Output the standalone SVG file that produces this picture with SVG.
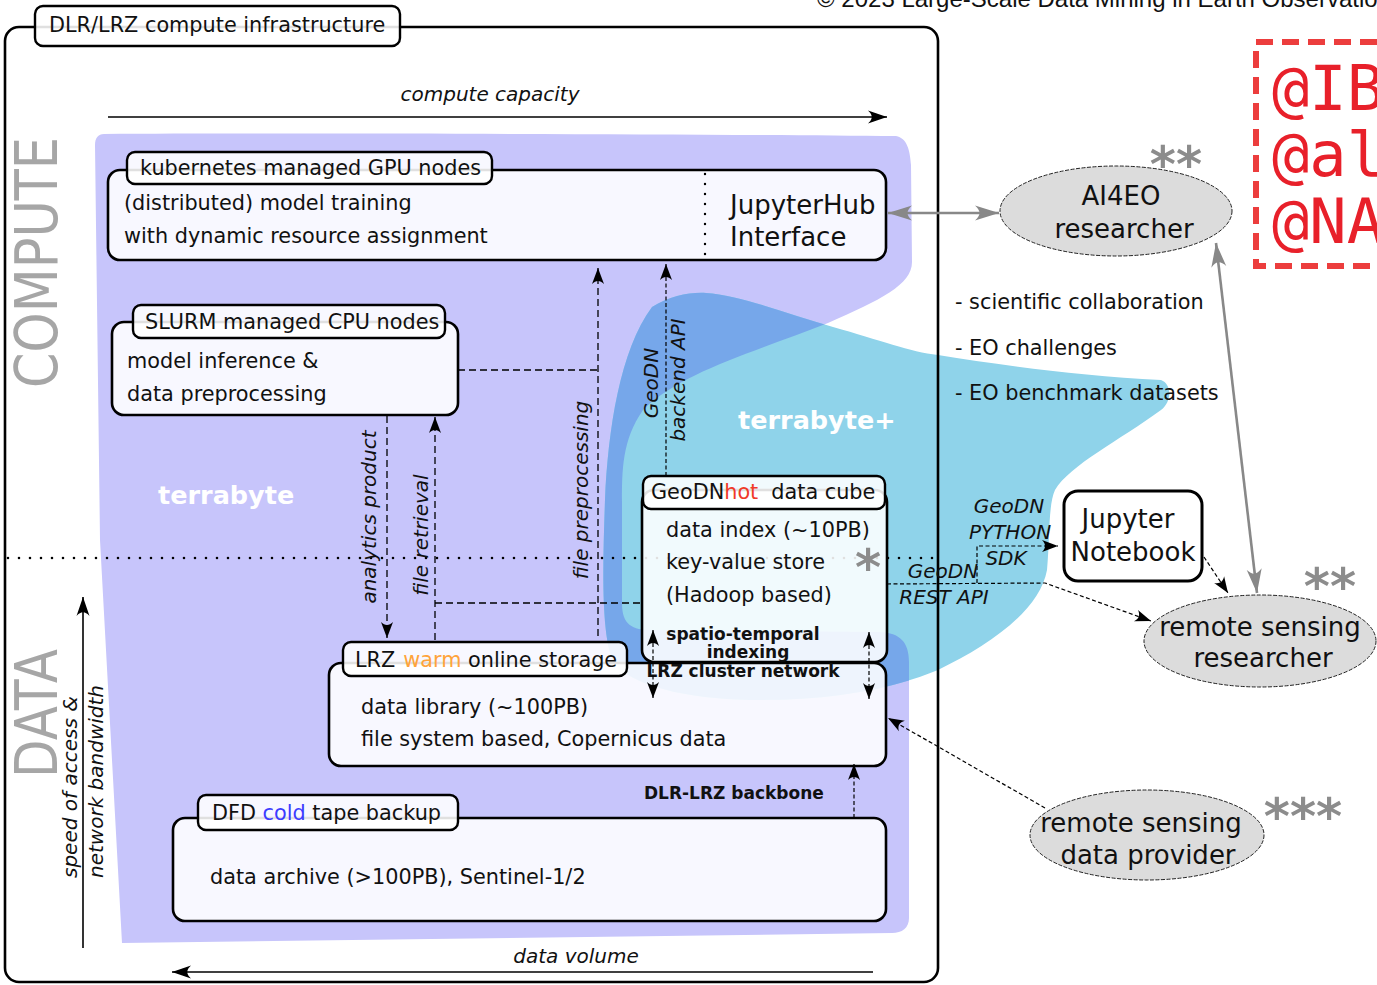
<svg xmlns="http://www.w3.org/2000/svg" width="1377" height="985" viewBox="0 0 1377 985">
<defs>
<style>
.t{font-family:"DejaVu Sans",Verdana,sans-serif;font-size:20.8px;fill:#111}
.it{font-family:"DejaVu Sans",Verdana,sans-serif;font-style:italic;font-size:20px;fill:#111}
.bd{font-family:"DejaVu Sans",Verdana,sans-serif;font-weight:bold;font-size:17px;fill:#111}
.big{font-family:"DejaVu Sans",Verdana,sans-serif;font-size:26px;fill:#111}
.star{font-family:"DejaVu Sans",Verdana,sans-serif;font-weight:bold;font-size:50px;fill:#8c8c8c}
.box{fill:#ffffff;fill-opacity:0.88;stroke:#000;stroke-width:2.6}
.tab{fill:#ffffff;fill-opacity:0.88;stroke:#000;stroke-width:2.4}
.ell{fill:#dcdcdc;stroke:#222;stroke-width:1;stroke-dasharray:4 1.5}
.dash{fill:none;stroke:#000;stroke-width:1.3;stroke-dasharray:7 4}
.fdash{fill:none;stroke:#000;stroke-width:1.2;stroke-dasharray:4 2.5}
.gray{fill:none;stroke:#888;stroke-width:2.6}
.sol{fill:none;stroke:#000;stroke-width:1.6}
</style>
<marker id="arr" viewBox="-21 -8 22 16" refX="0" refY="0" markerWidth="22" markerHeight="16" markerUnits="userSpaceOnUse" orient="auto-start-reverse"><path d="M0,0 L-19,-6.5 C-14,-2 -14,2 -19,6.5 Z" fill="#000"/></marker>
<marker id="arrs" viewBox="-18 -8 19 16" refX="0" refY="0" markerWidth="19" markerHeight="16" markerUnits="userSpaceOnUse" orient="auto-start-reverse"><path d="M0,0 L-16,-6 C-12,-2 -12,2 -16,6 Z" fill="#000"/></marker>
<marker id="garr" viewBox="-26 -9 27 18" refX="0" refY="0" markerWidth="27" markerHeight="18" markerUnits="userSpaceOnUse" orient="auto-start-reverse"><path d="M0,0 L-24,-7.5 C-18,-2 -18,2 -24,7.5 Z" fill="#888"/></marker>
<path id="lavPath" d="M 104,134 C 300,133 700,134 896,136 C 907,138 910,150 911,165 L 912,262 C 912,285 880,300 828,323 C 760,350 680,372 643,410 C 622,440 622,470 622,503 L 622,603 C 622,625 632,630 652,630 L 880,632 C 900,633 909,642 909,662 L 909,918 C 909,928 902,933 892,933 L 122,943 L 100,540 L 95,145 C 95,138 98,134 104,134 Z"/>
<path id="blobPath" d="M 652,307 C 670,296 690,292 706,293 C 740,295 790,315 833,327 C 880,340 910,352 938,355 C 1000,365 1080,376 1161,380 C 1172,384 1172,402 1161,410 C 1120,440 1070,465 1055,490 C 1048,505 1050,540 1047,570 C 1040,610 990,645 938,670 C 890,690 830,700 760,700 C 700,700 640,690 615,665 C 600,640 603,560 605,500 C 608,430 620,350 652,307 Z"/>
<clipPath id="lavClip"><use href="#lavPath"/></clipPath>
</defs>
<rect x="0" y="0" width="1377" height="985" fill="#fff"/>
<text x="817" y="7" font-family="'Liberation Sans',Arial,sans-serif" font-size="24" fill="#111">© 2023 Large-Scale Data Mining in Earth Observation</text>

<g id="areas">
<use href="#lavPath" fill="#c7c5fb"/>
<use href="#blobPath" fill="#8fd3ea"/>
<use href="#blobPath" fill="#76a7ea" clip-path="url(#lavClip)"/>
<text x="158" y="504" font-family="'DejaVu Sans',sans-serif" font-weight="bold" font-size="25.5" fill="#fff">terrabyte</text>
<text x="738" y="429" font-family="'DejaVu Sans',sans-serif" font-weight="bold" font-size="25.5" fill="#fff">terrabyte+</text>
</g>

<g id="container">
<rect x="5" y="27" width="933" height="955" rx="14" fill="none" stroke="#000" stroke-width="2.6"/>
<rect x="35" y="6" width="365" height="40" rx="8" class="tab"/>
<text x="49" y="32" class="t">DLR/LRZ compute infrastructure</text>
<text transform="translate(57,388) rotate(-90)" font-family="'DejaVu Sans',sans-serif" font-size="58" fill="#a6a6a6" textLength="251" lengthAdjust="spacingAndGlyphs">COMPUTE</text>
<text transform="translate(57,778) rotate(-90)" font-family="'DejaVu Sans',sans-serif" font-size="58" fill="#a6a6a6" textLength="129" lengthAdjust="spacingAndGlyphs">DATA</text>
<text x="490" y="101" class="it" text-anchor="middle">compute capacity</text>
<line x1="108" y1="117" x2="887" y2="117" class="sol" marker-end="url(#arr)"/>
<text x="576" y="963" class="it" text-anchor="middle">data volume</text>
<line x1="873" y1="972" x2="172" y2="972" class="sol" marker-end="url(#arr)"/>
<line x1="83" y1="948" x2="83" y2="597" class="sol" marker-end="url(#arr)"/>
<text transform="translate(77,878) rotate(-90)" class="it">speed of access &amp;</text>
<text transform="translate(103,878) rotate(-90)" class="it">network bandwidth</text>
<line x1="8" y1="558" x2="938" y2="558" stroke="#000" stroke-width="2.6" stroke-dasharray="0 11" stroke-linecap="round"/>
</g>

<g id="redbox">
<rect x="1256" y="42" width="140" height="224" fill="none" stroke="#ec3d3d" stroke-width="6" stroke-dasharray="17 9"/>
<text x="1272" y="110" font-family="'DejaVu Sans Mono',monospace" font-size="62" fill="#e8202a">@IB</text>
<text x="1272" y="176" font-family="'DejaVu Sans Mono',monospace" font-size="62" fill="#e8202a">@al</text>
<text x="1272" y="243" font-family="'DejaVu Sans Mono',monospace" font-size="62" fill="#e8202a">@NA</text>
</g>

<g id="gpu-nodes">
<rect x="108" y="170" width="778" height="90" rx="12" class="box"/>
<rect x="127" y="152" width="365" height="32" rx="8" class="tab"/>
<text x="140" y="175" class="t">kubernetes managed GPU nodes</text>
<text x="124" y="210" class="t">(distributed) model training</text>
<text x="124" y="243" class="t">with dynamic resource assignment</text>
<line x1="705" y1="174" x2="705" y2="258" stroke="#000" stroke-width="2.4" stroke-dasharray="0 10" stroke-linecap="round"/>
<text x="730" y="214" class="big">JupyterHub</text>
<text x="730" y="246" class="big">Interface</text>
</g>

<g id="cpu-nodes">
<rect x="112" y="322" width="346" height="93" rx="12" class="box"/>
<rect x="133" y="305" width="312" height="33" rx="8" class="tab"/>
<text x="145" y="329" class="t">SLURM managed CPU nodes</text>
<text x="127" y="368" class="t">model inference &amp;</text>
<text x="127" y="401" class="t">data preprocessing</text>
</g>

<g id="geodn-cube">
<rect x="642" y="490" width="245" height="172" rx="12" class="box"/>
<rect x="643" y="476" width="242" height="33" rx="8" class="tab"/>
<text x="651" y="499" class="t">GeoDN<tspan fill="#f03a28">hot</tspan><tspan dx="13">data cube</tspan></text>
<text x="666" y="537" class="t">data index (~10PB)</text>
<text x="666" y="569" class="t">key-value store</text>
<text x="666" y="602" class="t">(Hadoop based)</text>
<text x="868" y="585" class="star" text-anchor="middle" font-size="46">*</text>
<text x="743" y="640" class="bd" text-anchor="middle">spatio-temporal</text>
<text x="748" y="658" class="bd" text-anchor="middle">indexing</text>
</g>

<g id="lrz-warm">
<rect x="329" y="663" width="557" height="103" rx="12" class="box"/>
<rect x="343" y="642" width="284" height="34" rx="8" class="tab"/>
<text x="355" y="667" class="t">LRZ<tspan dx="8" fill="#ffa43a">warm</tspan> online storage</text>
<text x="743" y="677" class="bd" text-anchor="middle">LRZ cluster network</text>
<text x="361" y="714" class="t">data library (~100PB)</text>
<text x="361" y="746" class="t">file system based, Copernicus data</text>
</g>

<g id="dfd-cold">
<rect x="173" y="818" width="713" height="103" rx="12" class="box"/>
<rect x="198" y="795" width="260" height="35" rx="8" class="tab"/>
<text x="212" y="820" class="t">DFD <tspan fill="#3c3cff">cold</tspan> tape backup</text>
<text x="210" y="884" class="t">data archive (&gt;100PB), Sentinel-1/2</text>
<text x="644" y="799" class="bd">DLR-LRZ backbone</text>
</g>

<g id="jupyter-notebook">
<rect x="1064" y="491" width="138" height="90" rx="14" fill="#fff" stroke="#000" stroke-width="3"/>
<text x="1128" y="528" class="big" text-anchor="middle">Jupyter</text>
<text x="1133" y="561" class="big" text-anchor="middle">Notebook</text>
</g>

<g id="ai4eo-researcher">
<ellipse cx="1116" cy="211" rx="116" ry="45" class="ell"/>
<text x="1121" y="205" class="big" text-anchor="middle">AI4EO</text>
<text x="1124" y="238" class="big" text-anchor="middle">researcher</text>
<text x="1176" y="182" class="star" text-anchor="middle">**</text>
</g>

<g id="rs-researcher">
<ellipse cx="1260" cy="641" rx="116" ry="46" class="ell"/>
<text x="1260" y="636" class="big" text-anchor="middle">remote sensing</text>
<text x="1263" y="667" class="big" text-anchor="middle">researcher</text>
<text x="1330" y="604" class="star" text-anchor="middle">**</text>
</g>

<g id="rs-data-provider">
<ellipse cx="1147" cy="835" rx="117" ry="45" class="ell"/>
<text x="1141" y="832" class="big" text-anchor="middle">remote sensing</text>
<text x="1148" y="864" class="big" text-anchor="middle">data provider</text>
<text x="1303" y="834" class="star" text-anchor="middle">***</text>
</g>

<g id="bullets">
<text x="955" y="309" class="t">- scientific collaboration</text>
<text x="955" y="355" class="t">- EO challenges</text>
<text x="955" y="400" class="t">- EO benchmark datasets</text>
</g>

<g id="connectors">
<line x1="387" y1="416" x2="387" y2="638" class="dash" marker-end="url(#arrs)"/>
<text transform="translate(376,517) rotate(-90)" class="it" text-anchor="middle">analytics product</text>
<line x1="435" y1="640" x2="435" y2="417" class="dash" marker-end="url(#arrs)"/>
<line x1="435" y1="603" x2="642" y2="603" class="dash"/>
<text transform="translate(428,535) rotate(-90)" class="it" text-anchor="middle">file retrieval</text>
<line x1="598" y1="636" x2="598" y2="268" class="dash" marker-end="url(#arrs)"/>
<line x1="458" y1="370" x2="598" y2="370" class="dash"/>
<text transform="translate(588,490) rotate(-90)" class="it" text-anchor="middle">file preprocessing</text>
<line x1="666" y1="476" x2="666" y2="264" class="fdash" marker-end="url(#arrs)"/>
<text transform="translate(658,383) rotate(-90)" class="it" text-anchor="middle">GeoDN</text>
<text transform="translate(685,380) rotate(-90)" class="it" text-anchor="middle">backend API</text>
<line x1="653" y1="630" x2="653" y2="698" class="fdash" marker-start="url(#arrs)" marker-end="url(#arrs)"/>
<line x1="869" y1="632" x2="869" y2="699" class="fdash" marker-start="url(#arrs)" marker-end="url(#arrs)"/>
<line x1="854" y1="818" x2="854" y2="764" class="fdash" marker-end="url(#arrs)"/>
<polyline points="887,584 1045,583 1151,621" class="fdash" marker-end="url(#arrs)"/>
<polyline points="977,583 977,546 1058,546" class="fdash" marker-end="url(#arrs)"/>
<line x1="1204" y1="557" x2="1228" y2="593" class="fdash" marker-end="url(#arrs)"/>
<line x1="1045" y1="808" x2="888" y2="718" class="fdash" marker-end="url(#arrs)"/>
<line x1="888" y1="213" x2="999" y2="213" class="gray" marker-start="url(#garr)" marker-end="url(#garr)"/>
<line x1="1216" y1="243" x2="1257" y2="593" class="gray" marker-start="url(#garr)" marker-end="url(#garr)"/>
<text x="1009" y="513" class="it" font-size="21" text-anchor="middle">GeoDN</text>
<text x="1010" y="539" class="it" font-size="21" text-anchor="middle">PYTHON</text>
<text x="1006" y="565" class="it" font-size="21" text-anchor="middle">SDK</text>
<text x="943" y="578" class="it" font-size="21" text-anchor="middle">GeoDN</text>
<text x="944" y="604" class="it" font-size="21" text-anchor="middle">REST API</text>
</g>
</svg>
